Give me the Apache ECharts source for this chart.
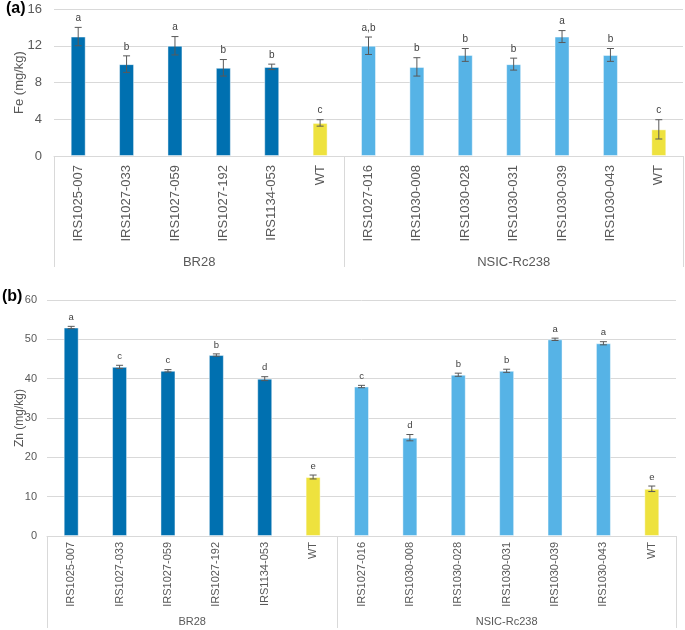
<!DOCTYPE html>
<html>
<head>
<meta charset="utf-8">
<script src="https://cdn.jsdelivr.net/npm/echarts@6/dist/echarts.min.js"></script>
<style>
  html, body { margin: 0; padding: 0; background: #fff; }
  #main { width: 685px; height: 630px; }
</style>
</head>
<body>
<div id="main"></div>
<script>
// lines tested, grouped by background variety
var lines = ['IRS1025-007', 'IRS1027-033', 'IRS1027-059', 'IRS1027-192', 'IRS1134-053', 'WT',
  'IRS1027-016', 'IRS1030-008', 'IRS1030-028', 'IRS1030-031', 'IRS1030-039', 'IRS1030-043', 'WT'];
var groups = ['BR28', 'NSIC-Rc238'];
var groupSize = [6, 7];

// (a) iron
var feMean = [13, 10, 12, 9.6, 9.7, 3.6, 12, 9.7, 11, 10, 13, 11, 2.9];
var feErr = [1, 0.9, 1, 0.9, 0.3, 0.35, 0.95, 1, 0.7, 0.65, 0.65, 0.7, 1.05];
var feLetter = ['a', 'b', 'a', 'b', 'b', 'c', 'a,b', 'b', 'b', 'b', 'a', 'b', 'c'];
var feTicks = [0, 4, 8, 12, 16];

// (b) zinc
var znMean = [53, 43, 42, 46, 40, 15, 38, 25, 41, 42, 50, 49, 12];
var znErr = [0.3, 0.4, 0.3, 0.3, 0.5, 0.5, 0.3, 0.8, 0.4, 0.4, 0.3, 0.4, 0.7];
var znLetter = ['a', 'c', 'c', 'b', 'd', 'e', 'c', 'd', 'b', 'b', 'a', 'a', 'e'];
var znTicks = [0, 10, 20, 30, 40, 50, 60];

var FONT = '"Liberation Sans", Arial, sans-serif';
var GRID_COLOR = '#d9d9d9';
var TEXT_COLOR = '#595959';

// group boundaries (category index where each group starts) and centres
var groupStart = [];
var groupCentre = [];
var acc = 0;
groupSize.forEach(function (n) {
  groupStart.push(acc);
  groupCentre.push(acc + n / 2);
  acc += n;
});

function barColor(i) {
  if (lines[i] === 'WT') return '#eee23e';
  return i < groupSize[0] ? '#0070b0' : '#56b3e6';
}

function barData(values) {
  return values.map(function (v, i) {
    return { value: v, itemStyle: { color: barColor(i) } };
  });
}

function catAxis(gi, fs, margin, tickLen) {
  return {
    type: 'category', gridIndex: gi, data: lines, position: 'bottom',
    axisLine: { show: true, lineStyle: { color: GRID_COLOR } },
    axisTick: {
      show: true,
      length: tickLen,
      lineStyle: { color: GRID_COLOR, width: 1 },
      interval: function (index) { return groupStart.indexOf(index) >= 0; }
    },
    axisLabel: {
      interval: 0, rotate: 90, margin: margin,
      fontSize: fs, fontFamily: FONT, color: TEXT_COLOR
    }
  };
}

function groupAxis(gi, fs, margin) {
  return {
    type: 'value', gridIndex: gi, position: 'bottom',
    min: 0, max: lines.length, interval: 0.5,
    axisLine: { show: false }, axisTick: { show: false }, splitLine: { show: false },
    axisLabel: {
      margin: margin, fontSize: fs, fontFamily: FONT, color: TEXT_COLOR,
      formatter: function (v) {
        var k = groupCentre.indexOf(v);
        return k >= 0 ? groups[k] : '';
      }
    }
  };
}

function valAxis(gi, ticks, name, fs, nameFs, margin, nameGap) {
  return {
    type: 'value', gridIndex: gi,
    min: ticks[0], max: ticks[ticks.length - 1], interval: ticks[1] - ticks[0],
    name: name, nameLocation: 'middle', nameGap: nameGap, nameRotate: 90,
    nameMoveOverlap: false,
    nameTextStyle: { fontSize: nameFs, fontFamily: FONT, color: TEXT_COLOR },
    axisLine: { show: false }, axisTick: { show: false },
    splitLine: { lineStyle: { color: GRID_COLOR } },
    axisLabel: { margin: margin, fontSize: fs, fontFamily: FONT, color: TEXT_COLOR }
  };
}

function barSeries(values, idx) {
  return {
    type: 'bar', xAxisIndex: idx, yAxisIndex: idx,
    data: barData(values), barWidth: 15,
    itemStyle: { borderColor: 'rgba(255,255,255,0.45)', borderWidth: 1 }
  };
}

function errorSeries(mean, err, letter, idx, fs, gap) {
  return {
    type: 'custom', xAxisIndex: idx, yAxisIndex: idx, z: 5, clip: false,
    data: mean.map(function (m, i) { return [i, m, err[i]]; }),
    renderItem: function (params, api) {
      var i = api.value(0), m = api.value(1), e = api.value(2);
      var hi = api.coord([i, m + e]);
      var lo = api.coord([i, m - e]);
      var x = hi[0], w = 3.5;
      var st = { stroke: '#595959', lineWidth: 1 };
      return {
        type: 'group',
        children: [
          { type: 'line', shape: { x1: x, y1: hi[1], x2: x, y2: lo[1] }, style: st },
          { type: 'line', shape: { x1: x - w, y1: hi[1], x2: x + w, y2: hi[1] }, style: st },
          { type: 'line', shape: { x1: x - w, y1: lo[1], x2: x + w, y2: lo[1] }, style: st },
          {
            type: 'text',
            style: {
              text: letter[params.dataIndex], x: x, y: hi[1] - gap,
              align: 'center', verticalAlign: 'bottom',
              fontSize: fs, fontFamily: FONT, fill: '#404040'
            }
          }
        ]
      };
    }
  };
}

var chart = echarts.init(document.getElementById('main'));
chart.setOption({
  animation: false,
  title: [
    { text: '(a)', left: 6, top: 1, padding: 0, textStyle: { fontSize: 16, fontWeight: 'bold', fontFamily: FONT, color: '#000' } },
    { text: '(b)', left: 2, top: 289, padding: 0, textStyle: { fontSize: 16, fontWeight: 'bold', fontFamily: FONT, color: '#000' } }
  ],
  grid: [
    { left: 54, right: 2, top: 9, height: 147, outerBoundsMode: 'none' },
    { left: 47, right: 9, top: 300, height: 236, outerBoundsMode: 'none' }
  ],
  xAxis: [
    catAxis(0, 13, 9, 111),
    catAxis(1, 11, 6, 92),
    groupAxis(0, 13, 100),
    groupAxis(1, 11, 80)
  ],
  yAxis: [
    valAxis(0, feTicks, 'Fe (mg/kg)', 13, 13, 12, 28),
    valAxis(1, znTicks, 'Zn (mg/kg)', 11, 12, 10, 21)
  ],
  series: [
    barSeries(feMean, 0),
    errorSeries(feMean, feErr, feLetter, 0, 10, 4),
    barSeries(znMean, 1),
    errorSeries(znMean, znErr, znLetter, 1, 9.5, 4)
  ]
});
</script>
</body>
</html>
